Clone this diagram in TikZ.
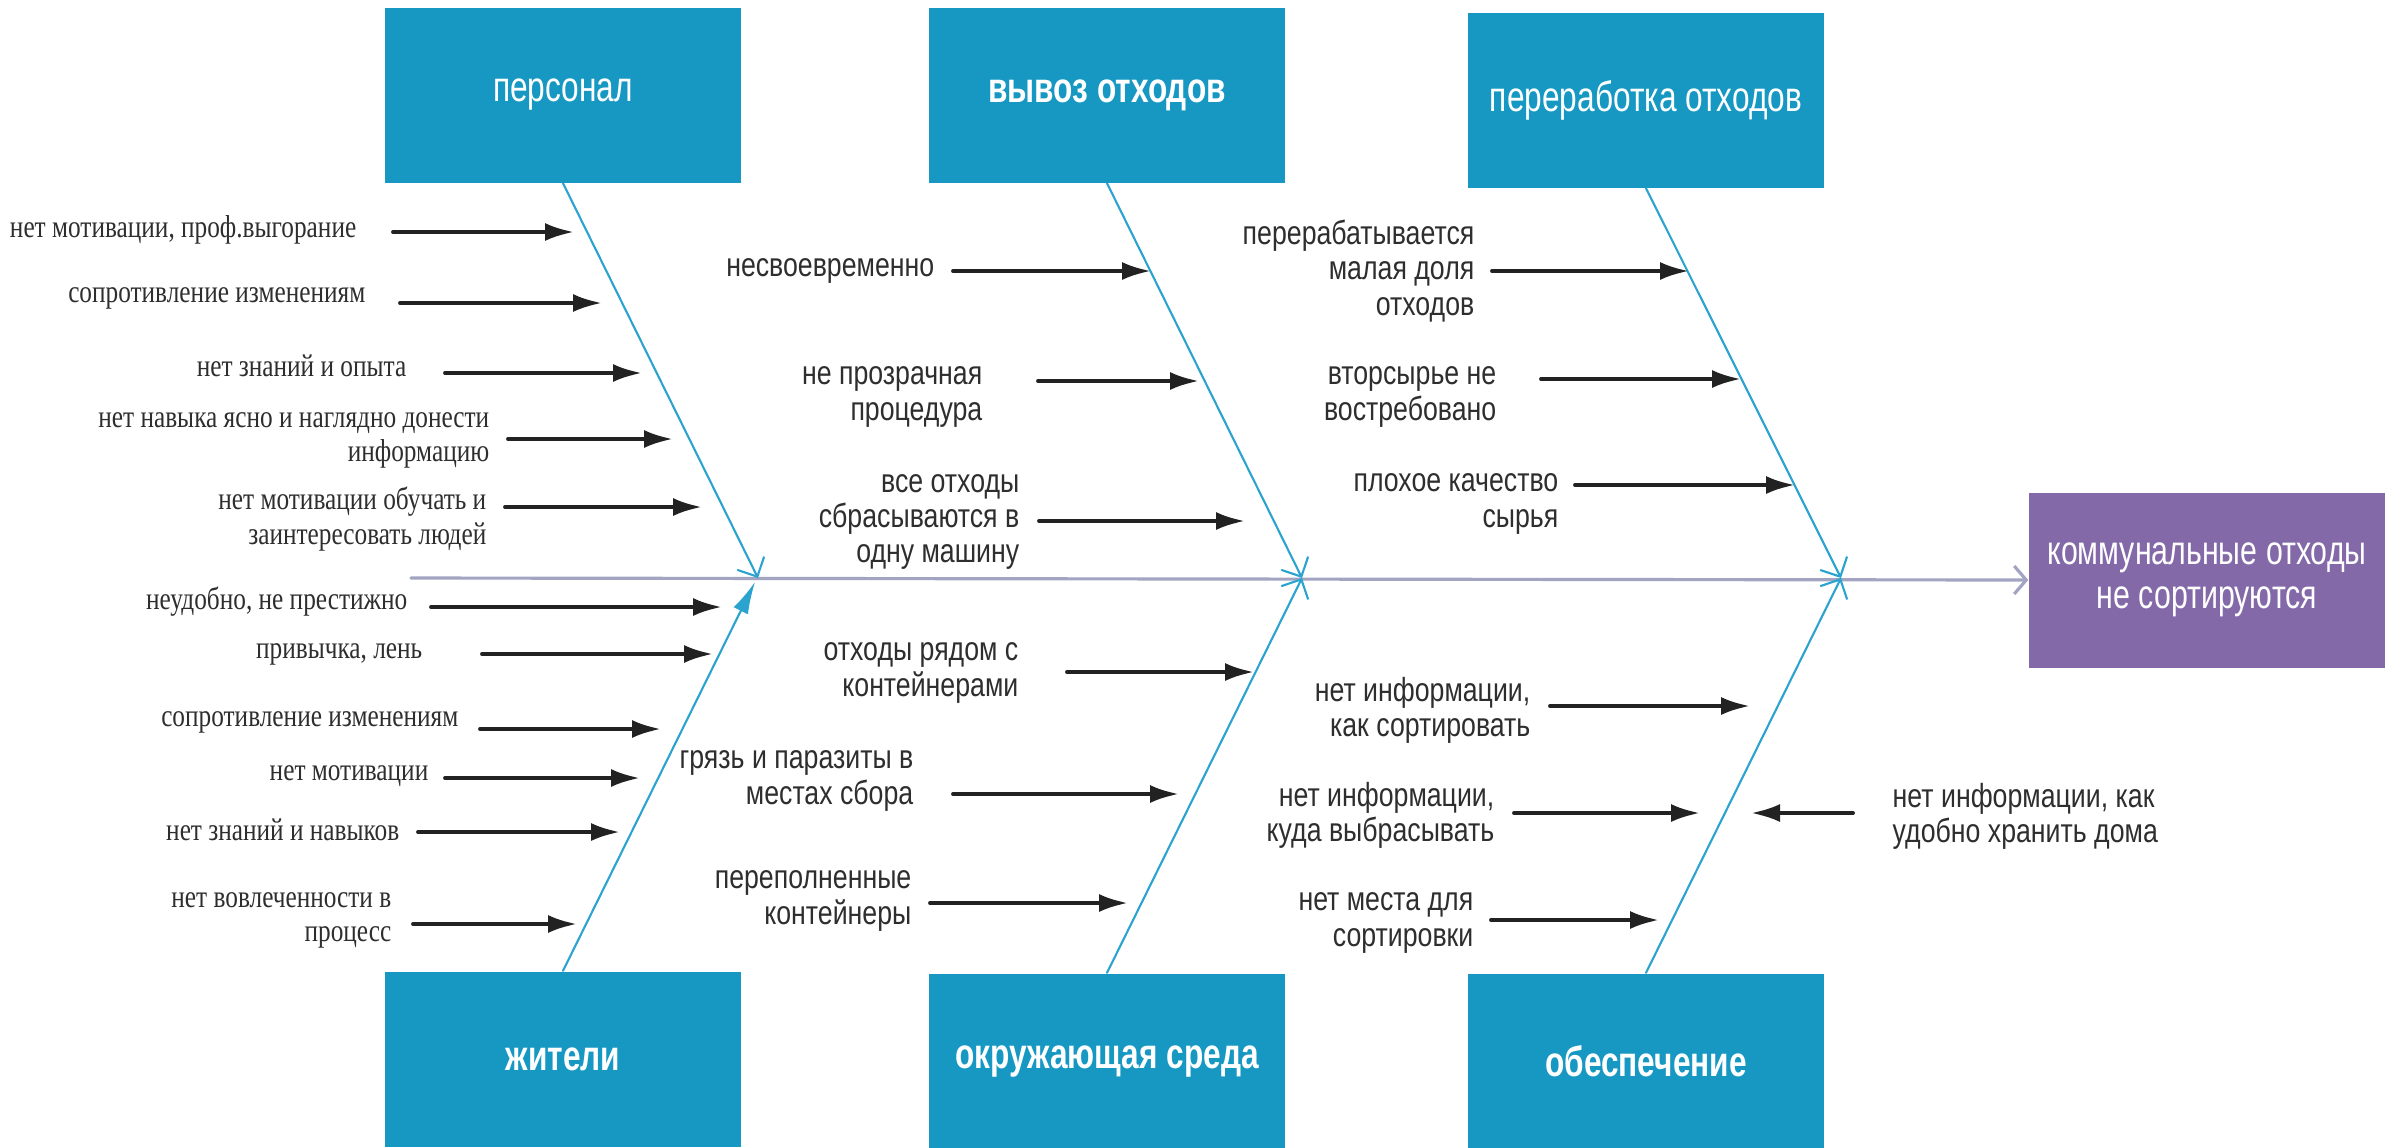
\documentclass[tikz,border=0pt]{standalone}
\usepackage{fontspec}
\setmainfont{Liberation Sans}
\newfontfamily\causesans[FakeStretch=0.8]{Liberation Sans}
\newfontfamily\causeserif[FakeStretch=0.8]{Liberation Serif}
\newfontfamily\boxsans[FakeStretch=0.75]{Liberation Sans}
\usetikzlibrary{arrows.meta}
\begin{document}
\begin{tikzpicture}
    [x=0.1mm,y=-0.1mm,line cap=round,
    % Styles
    category/.style={fill=boxcolor,text=white,inner sep=0pt,
      minimum width=35.6mm,minimum height=17.5mm,
      font=\boxsans\fontsize{12}{14}\selectfont},
    heavy/.style={font=\boxsans\bfseries\fontsize{12}{14}\selectfont},
    problem/.style={category,fill=goalcolor,align=center,
      font=\boxsans\fontsize{11.5}{12.4}\selectfont},
    serif cause/.style={anchor=east,align=right,inner sep=0pt,text=textcolor,
      font=\causeserif\fontsize{9}{9.7}\selectfont},
    sans cause/.style={anchor=east,align=right,inner sep=0pt,text=textcolor,
      font=\causesans\fontsize{9.5}{10}\selectfont},
    cause arrow/.style={draw=arrowcolor,line width=1.1pt,
      -{Latex[length=2.9mm,width=1.8mm]}},
    bone/.style={draw=bonecolor,line width=0.6pt,
      -{Straight Barb[length=1.5mm,width=3mm]}},
    spine/.style={draw=spinecolor,line width=0.9pt,
      -{Straight Barb[length=1.2mm,width=2.8mm]}}]
    % Colors
    \definecolor{boxcolor}{HTML}{1698C3}
    \definecolor{goalcolor}{HTML}{8369A8}
    \definecolor{bonecolor}{HTML}{2BA3CF}
    \definecolor{spinecolor}{HTML}{A3A3C2}
    \definecolor{arrowcolor}{HTML}{222222}
    \definecolor{textcolor}{HTML}{2E2E2E}
    \useasboundingbox (0,0) rectangle (2400,1147);
    % The categories
    \node[category] (pers) at (563,95) {персонал};
    \node[category,heavy] (vyvoz) at (1107,95) {вывоз отходов};
    \node[category] (pererab) at (1646,100) {переработка отходов};
    \node[category,heavy] (zhit) at (563,1059) {жители};
    \node[category,heavy] (okr) at (1107,1061) {окружающая среда};
    \node[category,heavy] (obesp) at (1646,1061) {обеспечение};
    \node[problem] (goal) at (2207,580) {коммунальные отходы\\не сортируются};
    % The spine and the bones
    \coordinate (tail) at (411,578);
    \coordinate (j1) at (758,578);
    \coordinate (j2) at (1302,578);
    \coordinate (j3) at (1841,578);
    \draw[spine] (tail) -- (goal.west);
    \draw[bone] (pers.south) -- (j1);
    \draw[bone] (vyvoz.south) -- (j2);
    \draw[bone] (pererab.south) -- (j3);
    \draw[bone,-{Latex[length=3.2mm,width=1.6mm]}] (zhit.north) -- ([shift={(-3,4)}]j1);
    \draw[bone] (okr.north) -- (j2);
    \draw[bone] (obesp.north) -- (j3);
    % Causes: text x / text y / arrow y / arrow start / arrow end / text
    \foreach \tx/\ty/\ay/\ax/\bx/\txt [count=\i] in {
      357/230/232/393/574/{нет мотивации, проф.выгорание},
      366/298/303/400/602/{сопротивление изменениям},
      407/366/373/445/642/{нет знаний и опыта},
      490/440/439/508/673/{нет навыка ясно и наглядно донести\\информацию},
      487/519/507/505/702/{нет мотивации обучать и\\заинтересовать людей},
      408/602/607/431/722/{неудобно, не престижно},
      423/654/654/482/713/{привычка, лень},
      459/722/729/480/661/{сопротивление изменениям},
      429/776/778/445/640/{нет мотивации},
      400/830/832/418/620/{нет знаний и навыков},
      392/920/924/413/577/{нет вовлеченности в\\процесс}}
    {
      \node[serif cause] (sc\i) at (\tx,\ty) {\txt};
      \coordinate (ss\i) at (\ax,\ay);
      \coordinate (se\i) at (\bx,\ay);
      \draw[cause arrow] (ss\i) -- (se\i);
    }
    \foreach \tx/\ty/\ay/\ax/\bx/\txt [count=\i] in {
      935/271/271/953/1151/{несвоевременно},
      983/397/381/1038/1199/{не прозрачная\\процедура},
      1020/522/521/1039/1245/{все отходы\\сбрасываются в\\одну машину},
      1019/673/672/1067/1254/{отходы рядом с\\контейнерами},
      914/781/794/953/1179/{грязь и паразиты в\\местах сбора},
      912/901/903/930/1128/{переполненные\\контейнеры},
      1475/271/271/1492/1689/{перерабатывается\\малая доля\\отходов},
      1497/397/379/1541/1741/{вторсырье не\\востребовано},
      1559/504/485/1575/1795/{плохое качество\\сырья},
      1531/710/706/1550/1750/{нет информации,\\как сортировать},
      1495/815/813/1514/1700/{нет информации,\\куда выбрасывать},
      1474/923/920/1491/1659/{нет места для\\сортировки}}
    {
      \node[sans cause] (tc\i) at (\tx,\ty) {\txt};
      \coordinate (ts\i) at (\ax,\ay);
      \coordinate (te\i) at (\bx,\ay);
      \draw[cause arrow] (ts\i) -- (te\i);
    }
    \node[sans cause,anchor=west,align=left] (store) at (1892,816)
      {нет информации, как\\удобно хранить дома};
    \coordinate (store start) at (1853,813);
    \coordinate (store end) at (1751,813);
    \draw[cause arrow] (store start) -- (store end);
  \end{tikzpicture}
\end{document}
